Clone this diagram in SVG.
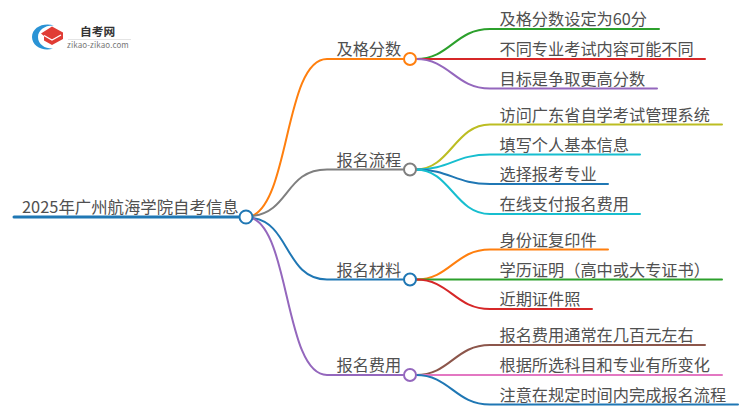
<svg xmlns="http://www.w3.org/2000/svg" width="750" height="410" viewBox="0 0 750 410">
<style>
text{font-family:"Noto Sans CJK SC","Noto Sans",sans-serif;font-size:16.2px;fill:#505050}
.c{fill:none;stroke-linecap:round;stroke-width:2}
.n{fill:#fff;stroke-width:2}
.o{stroke:#ff7f0e}.g{stroke:#7f7f7f}.b{stroke:#1f77b4}.p{stroke:#9467bd}.gr{stroke:#2ca02c}.r{stroke:#d62728}.y{stroke:#bcbd22}.cy{stroke:#17becf}.br{stroke:#8c564b}.pk{stroke:#e377c2}
</style>
<rect width="750" height="410" fill="#fff"/>
<g id="logo">
<path d="M54,25.500C44,22 32,27 32,37C32,46 43,52 53,48.500C46,49 38,45 38,37C38,30 45,25 54,25.500Z" fill="#2a93d5"/>
<path d="M41,33.500L52,26.500L63,32.500L63,39L52,45L44,40.500L44,36Z" fill="#e03c35"/>
<path d="M44,35.500L52,40L61,35" fill="none" stroke="#fff" stroke-width="1.300"/>
<text x="80" y="36" style="font-size:11.700px;font-weight:700;fill:#333">自考网</text>
<path d="M68,39.500H131" stroke="#e4e4e4" fill="none"/>
<text x="67" y="48" style="font-size:8px;fill:#777;letter-spacing:.1px">zikao-zikao.com</text>
</g>
<g id="connectors">
<path class="c b" style="stroke-width:3" d="M14,217H240"/>
<path class="c o" d="M252,216C290,200 285,59 327,59H403"/>
<path class="c g" d="M252,216C290,212 285,169.500 327,169.500H403"/>
<path class="c b" d="M252,218C290,222 285,279.500 327,279.500H403"/>
<path class="c p" d="M252,218C290,232 285,375 327,375H403"/>
<path class="c gr" d="M416,59C450,59 455,29 490,29H659"/>
<path class="c r" d="M416,59H705"/>
<path class="c p" d="M416,59C450,59 455,88.500 490,88.500H657"/>
<path class="c y" d="M416,169.500C450,169.500 455,124.500 490,124.500H722"/>
<path class="c cy" d="M416,169.500C450,169.500 455,154.500 490,154.500H640"/>
<path class="c b" d="M416,169.500C450,169.500 455,184 490,184H608"/>
<path class="c cy" d="M416,169.500C450,169.500 455,214 490,214H640"/>
<path class="c o" d="M416,279.500C450,279.500 455,249.500 490,249.500H608"/>
<path class="c gr" d="M416,279.500H722"/>
<path class="c r" d="M416,279.500C450,279.500 455,309 490,309H592"/>
<path class="c br" d="M416,375C450,375 455,345 490,345H705"/>
<path class="c pk" d="M416,375H722"/>
<path class="c b" d="M416,375C450,375 455,404.500 490,404.500H738"/>
</g>
<g id="root"><circle class="n b" cx="246" cy="217" r="6.500"/><text x="22" y="213" style="font-size:16.400px">2025年广州航海学院自考信息</text></g>
<g id="n1"><circle class="n o" cx="410" cy="59" r="6"/><text x="336.500" y="55">及格分数</text></g>
<g id="n2"><circle class="n g" cx="410" cy="169.500" r="6"/><text x="336.500" y="165.500">报名流程</text></g>
<g id="n3"><circle class="n b" cx="410" cy="279.500" r="6"/><text x="336.500" y="275.500">报名材料</text></g>
<g id="n4"><circle class="n p" cx="410" cy="375" r="6"/><text x="336.500" y="371">报名费用</text></g>
<g id="l1"><text x="499.500" y="25">及格分数设定为60分</text></g>
<g id="l2"><text x="499.500" y="55">不同专业考试内容可能不同</text></g>
<g id="l3"><text x="499.500" y="84.500">目标是争取更高分数</text></g>
<g id="l4"><text x="499.500" y="120.500">访问广东省自学考试管理系统</text></g>
<g id="l5"><text x="499.500" y="150.500">填写个人基本信息</text></g>
<g id="l6"><text x="499.500" y="180">选择报考专业</text></g>
<g id="l7"><text x="499.500" y="210">在线支付报名费用</text></g>
<g id="l8"><text x="499.500" y="245.500">身份证复印件</text></g>
<g id="l9"><text x="499.500" y="275.500">学历证明（高中或大专证书）</text></g>
<g id="l10"><text x="499.500" y="305">近期证件照</text></g>
<g id="l11"><text x="499.500" y="341">报名费用通常在几百元左右</text></g>
<g id="l12"><text x="499.500" y="371">根据所选科目和专业有所变化</text></g>
<g id="l13"><text x="499.500" y="400.500">注意在规定时间内完成报名流程</text></g>
</svg>
